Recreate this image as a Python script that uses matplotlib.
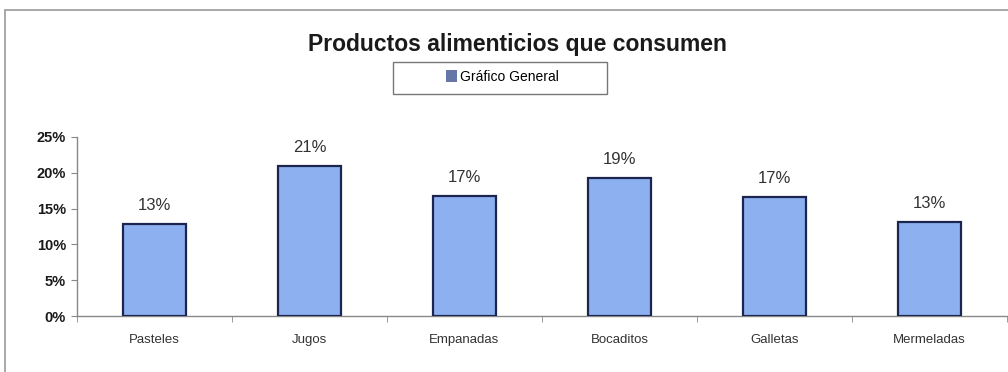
import matplotlib
matplotlib.use("Agg")
import matplotlib.pyplot as plt
from matplotlib.patches import Rectangle, Patch
from matplotlib.ticker import PercentFormatter, FixedLocator, NullFormatter

plt.rcParams['font.family'] = ['Liberation Sans', 'DejaVu Sans']

# Data
categories = ["Pasteles", "Jugos", "Empanadas", "Bocaditos", "Galletas", "Mermeladas"]
values = [0.128, 0.210, 0.168, 0.193, 0.166, 0.131]
series_name = "Gráfico General"
title = "Productos alimenticios que consumen"

W, H = 1008, 372
fig = plt.figure(figsize=(W / 100, H / 100), dpi=100)
fig.patch.set_facecolor("white")

# Outer chart frame
fig.patches.append(Rectangle((5 / W, -0.2), 1.2, 0.2 + 1 - 10 / H, transform=fig.transFigure,
                             fill=False, edgecolor="#9a9a9a", linewidth=1.2, zorder=0))

ax = fig.add_axes([77 / W, 1 - 316 / H, (1007 - 77) / W, (316 - 137) / H])
x = list(range(len(categories)))
bars = ax.bar(x, values, width=0.41, color="#8db0f0", edgecolor="#1c2550", linewidth=1.6, zorder=3)

ax.set_xlim(-0.5, len(categories) - 0.5)
ax.set_ylim(0, 0.25)
ax.yaxis.set_major_locator(FixedLocator([0, 0.05, 0.10, 0.15, 0.20, 0.25]))
ax.yaxis.set_major_formatter(PercentFormatter(1.0, decimals=0))
ax.set_xticks(x)
ax.set_xticklabels(categories, fontsize=9.5, color="#333333")
ax.tick_params(axis="x", length=0, pad=13)
ax.xaxis.set_minor_locator(FixedLocator([i + 0.5 for i in range(-1, len(categories))]))
ax.xaxis.set_minor_formatter(NullFormatter())
ax.tick_params(axis="x", which="minor", length=4, color="#888888")
ax.tick_params(axis="y", length=4, color="#888888", labelsize=10.5, pad=4, labelcolor="#1a1a1a")
for lbl in ax.get_yticklabels():
    lbl.set_fontweight("bold")

for s in ["top", "right"]:
    ax.spines[s].set_visible(False)
for s in ["left", "bottom"]:
    ax.spines[s].set_color("#888888")
    ax.spines[s].set_linewidth(1.0)

for b, v in zip(bars, values):
    ax.annotate(f"{v:.0%}", (b.get_x() + b.get_width() / 2, v), xytext=(0, 8),
                textcoords="offset points", ha="center", va="bottom",
                fontsize=12, color="#333333")

fig.text(0.5135, 1 - 44 / H, title, ha="center", va="center", fontsize=16.5, fontweight="bold",
         color="#1a1a1a")

# Legend with its own box
fig.patches.append(Rectangle((393 / W, 1 - 94 / H), 214 / W, 32 / H, transform=fig.transFigure,
                             fill=False, edgecolor="#777777", linewidth=1.0))
fig.legend(handles=[Patch(facecolor="#6676a6", edgecolor="none", label=series_name)],
           loc="center", bbox_to_anchor=(0.4985, 1 - 77 / H), frameon=False,
           fontsize=10, handlelength=0.75, handleheight=0.9, handletextpad=0.25)

fig.savefig("out.png", dpi=100)
